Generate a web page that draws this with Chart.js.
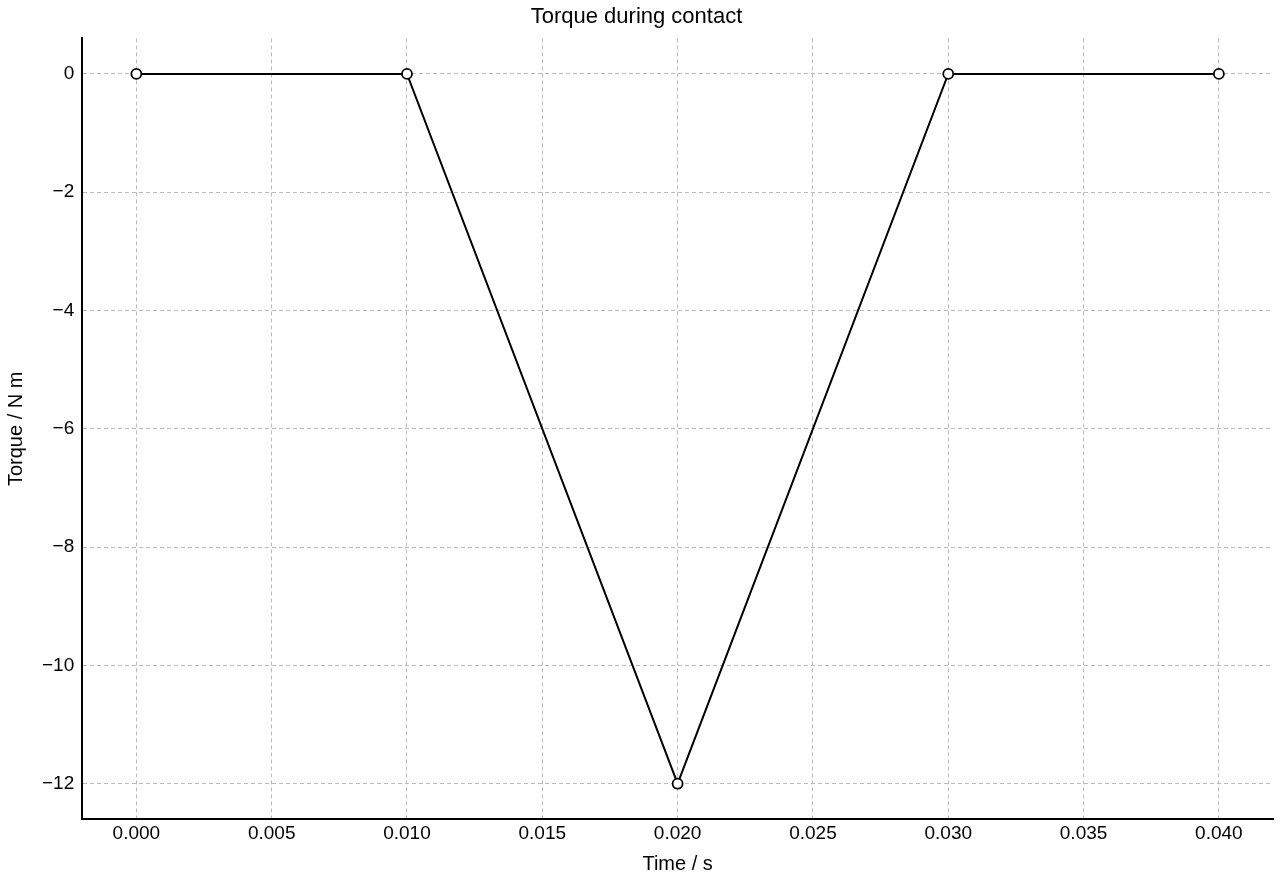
<!DOCTYPE html>
<html>
<head>
<meta charset="utf-8">
<script src="https://cdn.jsdelivr.net/npm/chart.js@4"></script>
<style>
  html, body { margin: 0; padding: 0; background: #fff; }
  #wrap { width: 1280px; height: 880px; }
</style>
</head>
<body>
<div id="wrap"><canvas id="c" width="1280" height="880"></canvas></div>
<script>
// data
const times = [0.000, 0.010, 0.020, 0.030, 0.040];
const torque = [0, 0, -12, 0, 0];
const xTicks = [0.000, 0.005, 0.010, 0.015, 0.020, 0.025, 0.030, 0.035, 0.040];
const yTicks = [0, -2, -4, -6, -8, -10, -12];

const font = "'Liberation Sans', Arial, sans-serif";
const fmtMinus = (s) => s.replace('-', '\u2212');

new Chart(document.getElementById('c'), {
  type: 'scatter',
  data: {
    datasets: [{
      data: times.map((t, i) => ({ x: t, y: torque[i] })),
      showLine: true,
      borderColor: '#000',
      borderWidth: 2,
      pointRadius: 5,
      pointBackgroundColor: '#fff',
      pointBorderColor: '#000',
      pointBorderWidth: 1.8,
    }],
  },
  options: {
    responsive: false,
    animation: false,
    layout: { padding: { top: 0, right: 7, left: 0, bottom: 0 } },
    plugins: {
      legend: { display: false },
      tooltip: { enabled: false },
      title: {
        display: true,
        text: 'Torque during contact',
        color: '#000',
        font: { family: font, size: 22, weight: 'normal' },
        padding: { top: 4, bottom: 8 },
      },
    },
    scales: {
      x: {
        type: 'linear',
        min: -0.002,
        max: 0.042,
        afterBuildTicks: (s) => { s.ticks = xTicks.map((v) => ({ value: v })); },
        ticks: {
          color: '#000',
          font: { family: font, size: 19 },
          maxRotation: 0,
          callback: (v) => v.toFixed(3),
        },
        grid: { color: '#bbb', lineWidth: 1, tickLength: 0, tickColor: '#000' },
        border: { display: true, color: '#000', width: 2, dash: [4, 3] },
        title: { display: true, text: 'Time / s', color: '#000', font: { family: font, size: 20 }, padding: { top: 4 } },
      },
      y: {
        type: 'linear',
        min: -12.6,
        max: 0.6,
        afterBuildTicks: (s) => { s.ticks = yTicks.map((v) => ({ value: v })); },
        ticks: {
          color: '#000',
          font: { family: font, size: 19 },
          padding: 8,
          callback: (v) => fmtMinus(String(v)),
        },
        grid: { color: '#bbb', lineWidth: 1, tickLength: 0 },
        border: { display: true, color: '#000', width: 2, dash: [4, 3] },
        title: { display: true, text: 'Torque / N m', color: '#000', font: { family: font, size: 20 }, padding: { bottom: 6 } },
      },
    },
  },
});
</script>
</body>
</html>
